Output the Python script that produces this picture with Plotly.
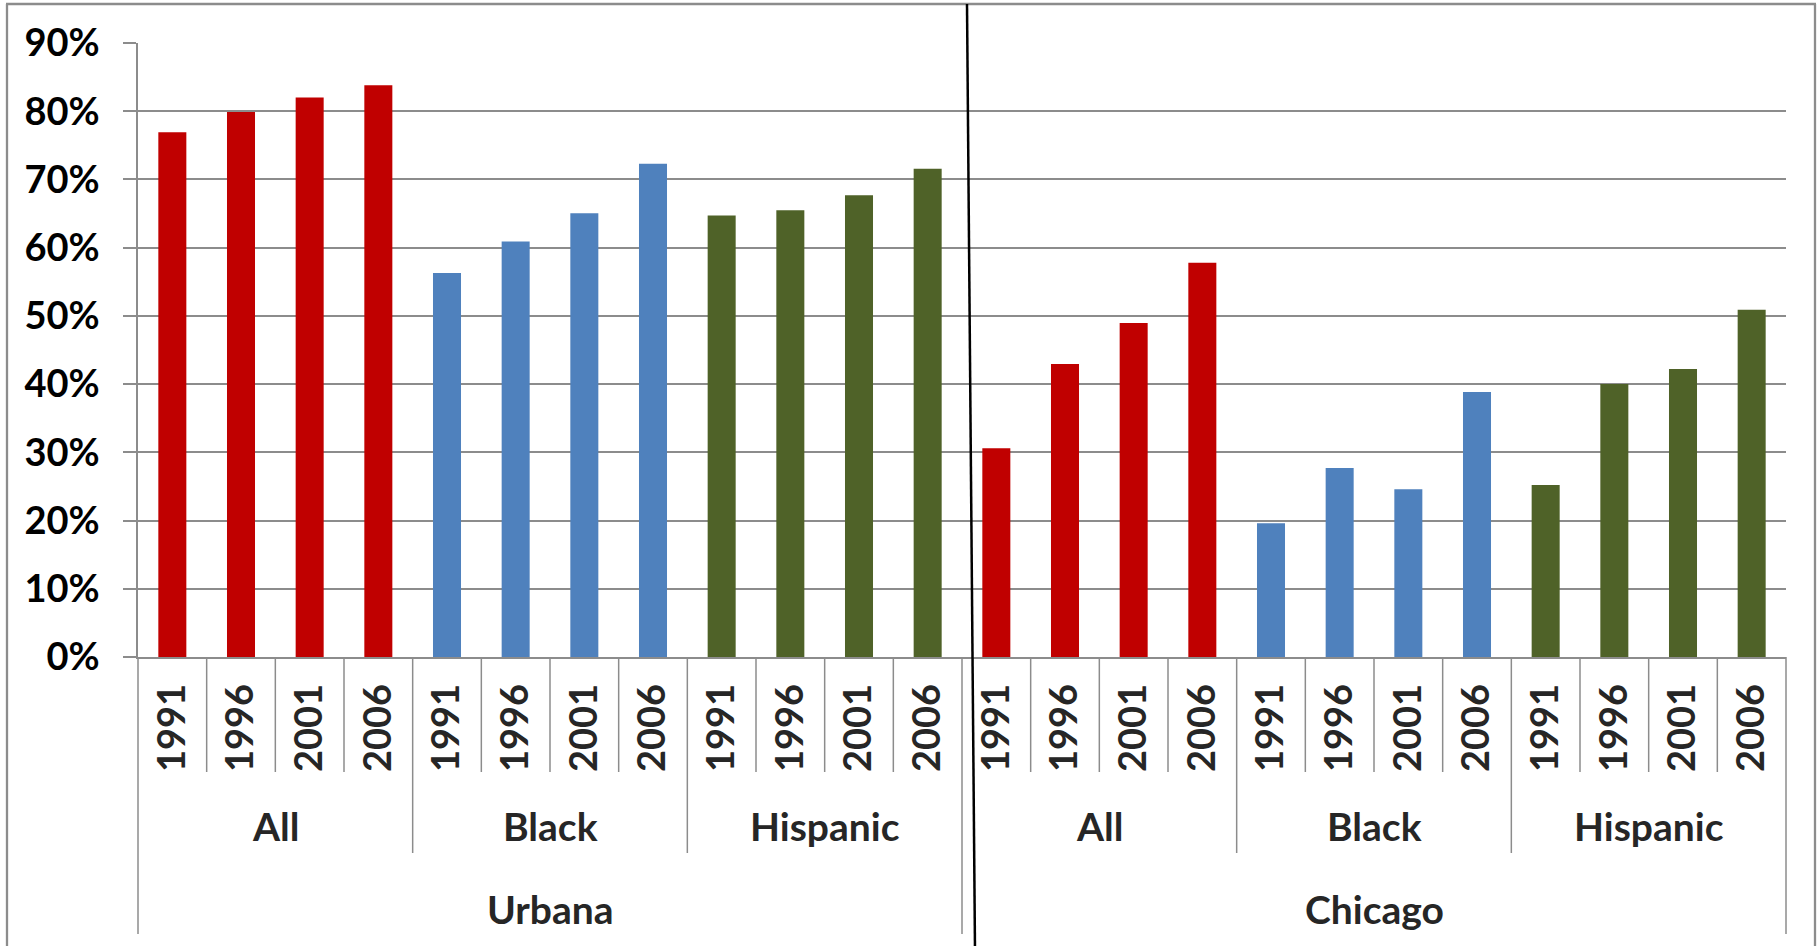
import plotly.graph_objects as go

# ---- data ----
years = ["1991", "1996", "2001", "2006"]
groups = ["All", "Black", "Hispanic"]
cities = ["Urbana", "Chicago"]

urbana_all = [76.9, 79.9, 82.0, 83.8]
urbana_black = [56.3, 60.9, 65.05, 72.3]
urbana_hispanic = [64.7, 65.5, 67.7, 71.55]
chicago_all = [30.6, 42.95, 48.95, 57.8]
chicago_black = [19.6, 27.7, 24.6, 38.85]
chicago_hispanic = [25.2, 40.0, 42.2, 50.9]

y_ticks = [0, 10, 20, 30, 40, 50, 60, 70, 80, 90]

group_colors = {"All": "#C00000", "Black": "#4F81BD", "Hispanic": "#4F6228"}

series = [urbana_all, urbana_black, urbana_hispanic,
          chicago_all, chicago_black, chicago_hispanic]

# ---- build flat arrays ----
xs, ys, colors, ticktext = [], [], [], []
i = 0
for ci, city in enumerate(cities):
    for gi, grp in enumerate(groups):
        vals = series[ci * len(groups) + gi]
        for yi, yr in enumerate(years):
            xs.append(i)
            ys.append(vals[yi])
            colors.append(group_colors[grp])
            ticktext.append(yr)
            i += 1
n = len(xs)

W, H = 1820, 946
ML, MR, MT, MB = 138, 34, 43, 289
PW = W - ML - MR
PH = H - MT - MB


def px_x(X):
    return (X - ML) / PW


def px_y(Y):
    return (H - MB - Y) / PH


FONT = "Lato, 'Open Sans', sans-serif"
GRID = "#8c8c8c"
TXT = "#262626"

fig = go.Figure()
fig.add_trace(go.Bar(x=xs, y=ys, marker=dict(color=colors, line=dict(width=0)),
                     hoverinfo="x+y"))

shapes = []
# separators under the axis
n_per_group = len(years)
n_per_city = len(years) * len(groups)
for k in range(n + 1):
    if k % n_per_city == 0:
        depth = px_y(934)
    elif k % n_per_group == 0:
        depth = px_y(853)
    else:
        depth = px_y(772)
    shapes.append(dict(type="line", xref="paper", yref="paper",
                       x0=k / n, x1=k / n, y0=0, y1=depth,
                       line=dict(color=GRID, width=1.5)))

# outer border of the picture
shapes.append(dict(type="line", xref="paper", yref="paper",
                   x0=px_x(7), x1=px_x(7), y0=px_y(4), y1=px_y(960),
                   line=dict(color=GRID, width=2.3)))
shapes.append(dict(type="line", xref="paper", yref="paper",
                   x0=px_x(1815), x1=px_x(1815), y0=px_y(4), y1=px_y(960),
                   line=dict(color=GRID, width=2.3)))
shapes.append(dict(type="line", xref="paper", yref="paper",
                   x0=px_x(6), x1=px_x(1816), y0=px_y(4), y1=px_y(4),
                   line=dict(color=GRID, width=2.3)))
# hand-drawn black divider between the cities
shapes.append(dict(type="line", xref="paper", yref="paper",
                   x0=px_x(967), x1=px_x(975), y0=px_y(4), y1=px_y(950),
                   line=dict(color="#000000", width=2.5)))

annotations = []
for ci, city in enumerate(cities):
    for gi, grp in enumerate(groups):
        start = ci * n_per_city + gi * n_per_group
        center = start + (n_per_group - 1) / 2
        annotations.append(dict(x=center, xref="x", y=px_y(826), yref="paper",
                                text="<b>%s</b>" % grp, showarrow=False,
                                xanchor="center", yanchor="middle",
                                font=dict(family=FONT, size=39, color=TXT)))
    center = ci * n_per_city + (n_per_city - 1) / 2
    annotations.append(dict(x=center, xref="x", y=px_y(909), yref="paper",
                            text="<b>%s</b>" % city, showarrow=False,
                            xanchor="center", yanchor="middle",
                            font=dict(family=FONT, size=39, color=TXT)))

fig.update_layout(
    width=W, height=H,
    margin=dict(l=ML, r=MR, t=MT, b=MB, autoexpand=False),
    paper_bgcolor="white", plot_bgcolor="white",
    bargap=0.592,
    showlegend=False,
    shapes=shapes,
    annotations=annotations,
    xaxis=dict(range=[-0.5, n - 0.5], tickmode="array", tickvals=xs,
               ticktext=["<b>%s</b>" % t for t in ticktext], tickangle=-90,
               tickfont=dict(family=FONT, size=38, color=TXT),
               showgrid=False, zeroline=False, showline=True,
               linecolor=GRID, linewidth=1.5, ticks="",
               ticklabelstandoff=10, automargin=False, fixedrange=True),
    yaxis=dict(range=[0, 90], tickmode="array", tickvals=y_ticks,
               ticktext=["<b>%d%%</b>" % v for v in y_ticks],
               tickfont=dict(family=FONT, size=38, color="#000000"),
               showgrid=True, gridcolor=GRID, gridwidth=1.5,
               zeroline=False, showline=True, linecolor=GRID, linewidth=1.5,
               ticks="outside", ticklen=13, tickcolor=GRID, tickwidth=1.5,
               ticklabelstandoff=16, automargin=False, fixedrange=True),
)

fig.write_html("out.html",
               config={"displayModeBar": False},
               post_script="document.body.style.margin='0px';"
                           "document.body.style.overflow='hidden';")
